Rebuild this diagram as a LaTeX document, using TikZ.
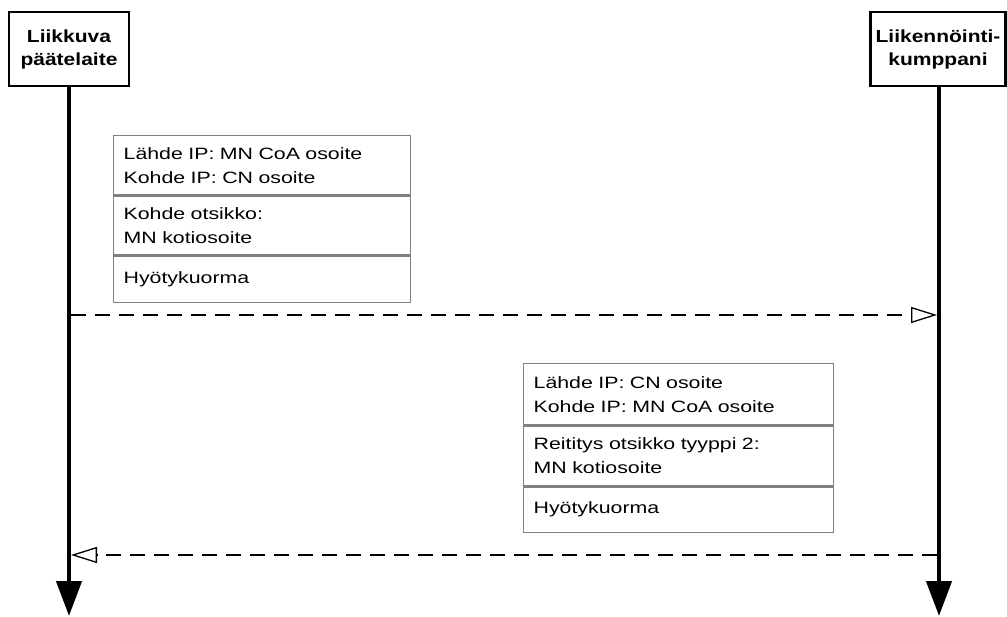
\documentclass[tikz,border=0pt]{standalone}
\usepackage{fontspec}
\newfontfamily\pk[FakeStretch=1.3]{Liberation Sans}
\newfontfamily\tk[FakeStretch=1.2]{Liberation Sans}
\usetikzlibrary{arrows.meta}
\definecolor{boxgray}{RGB}{128,128,128}
\tikzset{
  actor/.style={draw=black, line width=2.4pt, fill=white, align=center,
    font=\tk\bfseries\fontsize{17.5}{23}\selectfont, inner sep=0pt, minimum height=74pt},
  cell/.style={draw=boxgray, line width=1.3pt, align=left, inner xsep=10pt, inner ysep=0pt,
    font=\pk\fontsize{16.4}{24}\selectfont, anchor=north west},
  life/.style={line width=4.5pt, -{Triangle[length=35pt, width=25pt]}},
  msg/.style={line width=1.3pt, dash pattern=on 15pt off 9pt,
    -{Triangle[length=26pt, width=16pt, fill=white, line width=1.3pt]}}
}
\begin{document}
\begin{tikzpicture}[x=1pt, y=-1pt]
\useasboundingbox[fill=white] (0,0) rectangle (1007,617);
% actors
\node[actor, minimum width=120pt] (L) at (69,49) {Liikkuva\\päätelaite};
\node[actor, minimum width=135pt] (R) at (938,49) {Liikennöinti-\\kumppani};
\coordinate (Lend) at (69,616);
\coordinate (Rend) at (939,616);
\draw[life] (L.south) -- (Lend);
\draw[life] (R.south -| Rend) -- (Rend);
% packet 1
\node[cell, text width=277pt, minimum height=59pt] (p1a) at (113,135) {Lähde IP: MN CoA osoite\\Kohde IP: CN osoite};
\node[cell, text width=277pt, minimum height=59pt] (p1b) at (p1a.south west) {Kohde otsikko:\\MN kotiosoite};
\node[cell, text width=277pt, minimum height=46pt] (p1c) at (p1b.south west) {Hyötykuorma};
% packet 2
\node[cell, text width=290pt, minimum height=61pt] (p2a) at (523,363) {Lähde IP: CN osoite\\Kohde IP: MN CoA osoite};
\node[cell, text width=290pt, minimum height=60pt] (p2b) at (p2a.south west) {Reititys otsikko tyyppi 2:\\MN kotiosoite};
\node[cell, text width=290pt, minimum height=45pt] (p2c) at (p2b.south west) {Hyötykuorma};
% messages
\coordinate (m1s) at (71,315);
\coordinate (m1e) at (937,315);
\coordinate (m2s) at (937,555);
\coordinate (m2e) at (71,555);
\draw[msg] (m1s) -- (m1e);
\draw[msg] (m2s) -- (m2e);
\end{tikzpicture}
\end{document}
